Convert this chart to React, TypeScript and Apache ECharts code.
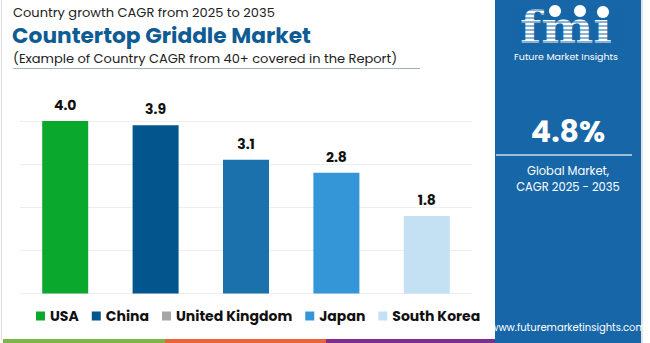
import React, { useEffect, useRef } from "react";
import * as echarts from "echarts";

const countries = ["USA", "China", "United Kingdom", "Japan", "South Korea"];
const cagrValues = [4.0, 3.9, 3.1, 2.8, 1.8];
const barColors = ["#0aa92d", "#03558e", "#1a71ac", "#3496d6", "#c3e1f2"];
const legendColors = ["#0aa92d", "#03558e", "#a6a6a6", "#3496d6", "#c3e1f2"];
const yTicks = [0, 1, 2, 3, 4];

const FONT = "Poppins, 'Noto Sans', 'Open Sans', sans-serif";
const PANEL = "#1766a7";

export default function App() {
  const ref = useRef<HTMLDivElement>(null);
  useEffect(() => {
    if (!ref.current) return;
    const chart = echarts.init(ref.current, undefined, { renderer: "svg" });
    const series = countries.map((name, i) => ({
      name,
      type: "bar",
      stack: "all",
      barWidth: 46,
      itemStyle: { color: legendColors[i] },
      data: cagrValues.map((v, j) =>
        j === i ? { value: v, itemStyle: { color: barColors[i] } } : "-"
      ),
      label: {
        show: true,
        position: "top",
        distance: 9,
        fontFamily: FONT,
        fontWeight: "bold",
        fontSize: 14,
        color: "#111",
        formatter: (p: any) => Number(p.value).toFixed(1),
      },
    }));

    const stripes: any[] = [];
    for (let y = 10; y < 48; y += 4) {
      stripes.push({
        type: "line",
        shape: { x1: 512, y1: y, x2: 622, y2: y },
        style: { stroke: PANEL, lineWidth: 1.2 },
      });
    }

    chart.setOption({
      animation: false,
      textStyle: { fontFamily: FONT },
      grid: { left: 20, right: 178, top: 121, bottom: 49.5 },
      xAxis: {
        type: "category",
        data: countries,
        axisLine: { show: false },
        axisTick: { show: false },
        axisLabel: { show: false },
      },
      yAxis: {
        type: "value",
        min: yTicks[0],
        max: yTicks[yTicks.length - 1],
        interval: 1,
        axisLabel: { show: false },
        axisLine: { show: false },
        axisTick: { show: false },
        splitLine: { lineStyle: { color: "#eeeeee", width: 1 } },
      },
      legend: {
        data: countries,
        left: 31,
        top: 304,
        icon: "rect",
        itemWidth: 9,
        itemHeight: 9,
        itemGap: 13,
        textStyle: { fontFamily: FONT, fontWeight: "bold", fontSize: 14, color: "#111" },
      },
      series,
      graphic: [
        { type: "rect", shape: { x: 1, y: 0, width: 1, height: 340 }, style: { fill: "#dddddd" } },
        { type: "rect", shape: { x: 641, y: 0, width: 2, height: 343 }, style: { fill: "#e4e4e4" } },
        {
          type: "text",
          x: 13,
          y: 12.5,
          style: { text: "Country growth CAGR from 2025 to 2035", fontFamily: FONT, fontSize: 13, lineHeight: 15, verticalAlign: "middle", fill: "#222" },
        },
        {
          type: "text",
          x: 12,
          y: 35.5,
          scaleX: 1.06,
          style: { text: "Countertop Griddle Market", fontFamily: FONT, fontSize: 20.5, lineHeight: 21, fontWeight: "bold", verticalAlign: "middle", fill: "#0f5c95" },
        },
        {
          type: "text",
          x: 13,
          y: 58.5,
          style: { text: "(Example of Country CAGR from 40+ covered in the Report)", fontFamily: FONT, fontSize: 13, lineHeight: 15, verticalAlign: "middle", fill: "#222" },
        },
        { type: "line", shape: { x1: 13, y1: 68.5, x2: 420, y2: 68.5 }, style: { stroke: "#9fb4c8", lineWidth: 1 } },
        // right panel
        { type: "rect", shape: { x: 495, y: 0, width: 146, height: 343 }, style: { fill: PANEL } },
        {
          type: "text",
          x: 566,
          y: 27,
          scaleX: 1.45,
          scaleY: 1.3,
          style: { text: "fmi", align: "center", verticalAlign: "middle", lineHeight: 28, fontFamily: "'DejaVu Serif', serif", fontSize: 34, fontWeight: "bold", fill: "#ffffff" },
        },
        ...stripes,
        { type: "circle", shape: { cx: 555, cy: 11, r: 6 }, style: { fill: "#ffffff" } },
        { type: "circle", shape: { cx: 580, cy: 11, r: 6 }, style: { fill: "#ffffff" } },
        { type: "circle", shape: { cx: 603, cy: 12, r: 6 }, style: { fill: "#ffffff" } },
        {
          type: "text",
          x: 566,
          y: 56,
          style: { text: "Future Market Insights", align: "center", verticalAlign: "middle", lineHeight: 11, fontFamily: FONT, fontSize: 9.5, fill: "#ffffff" },
        },
        {
          type: "text",
          x: 568,
          y: 131,
          style: { text: "4.8%", align: "center", verticalAlign: "middle", fontFamily: FONT, fontSize: 30, fontWeight: "bold", fill: "#ffffff" },
        },
        { type: "line", shape: { x1: 496, y1: 155, x2: 632, y2: 155 }, style: { stroke: "#c9dcec", lineWidth: 1.5 } },
        {
          type: "text",
          x: 568,
          y: 171,
          style: { text: "Global Market,", align: "center", verticalAlign: "middle", lineHeight: 14, fontFamily: FONT, fontSize: 11.5, fill: "#ffffff" },
        },
        {
          type: "text",
          x: 568,
          y: 187,
          style: { text: "CAGR 2025 - 2035", align: "center", verticalAlign: "middle", lineHeight: 14, fontFamily: FONT, fontSize: 11.5, fill: "#ffffff" },
        },
        {
          type: "text",
          x: 568,
          y: 327,
          style: { text: "www.futuremarketinsights.com", align: "center", verticalAlign: "middle", fontFamily: FONT, fontSize: 10, fill: "#ffffff" },
        },
        // bottom strips
        { type: "rect", shape: { x: 3, y: 339, width: 162, height: 4 }, style: { fill: "#7cb646" } },
        { type: "rect", shape: { x: 165, y: 339, width: 161, height: 4 }, style: { fill: "#e8653a" } },
        { type: "rect", shape: { x: 326, y: 339, width: 169, height: 4 }, style: { fill: "#7c2f8e" } },
      ],
    });
    return () => chart.dispose();
  }, []);
  return (
    <div
      ref={ref}
      style={{ position: "fixed", left: 0, top: 0, width: 650, height: 343, background: "#ffffff" }}
    />
  );
}
